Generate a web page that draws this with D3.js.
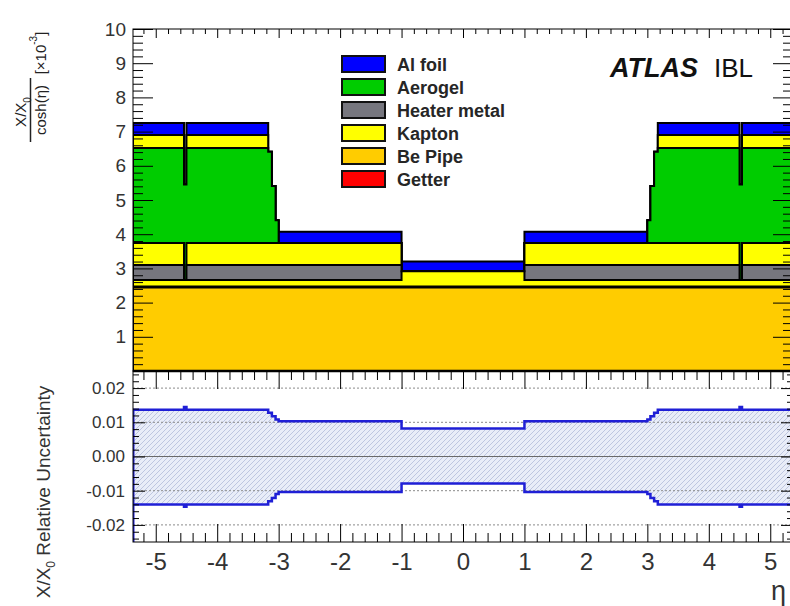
<!DOCTYPE html>
<html>
<head>
<meta charset="utf-8">
<script src="https://cdn.jsdelivr.net/npm/d3@7"></script>
<style>
  html, body { margin: 0; padding: 0; background: #ffffff; }
  svg { display: block; font-family: "Liberation Sans", Arial, Helvetica, sans-serif; }
</style>
</head>
<body>
<svg id="chart" width="790" height="606"></svg>
<script>
// ---------------- DATA ----------------
const etaEdges = [-5.37, -4.54, -4.50, -3.17, -3.11, -3.05, -3.0, -1.0, 1.0, 3.0, 3.05, 3.11, 3.17, 4.50, 4.54, 5.37];
// per-bin X/X0 / cosh(eta) contributions [x10^-3], stacked bottom -> top
const bePipe      = [2.44, 2.44, 2.44, 2.44, 2.44, 2.44, 2.44, 2.44, 2.44, 2.44, 2.44, 2.44, 2.44, 2.44, 2.44];
const getter      = [0.03, 0.03, 0.03, 0.03, 0.03, 0.03, 0.03, 0.03, 0.03, 0.03, 0.03, 0.03, 0.03, 0.03, 0.03];
const kaptonInner = [0.19, 0.19, 0.19, 0.19, 0.19, 0.19, 0.19, 0.45, 0.19, 0.19, 0.19, 0.19, 0.19, 0.19, 0.19];
const heaterMetal = [0.44, 0.00, 0.44, 0.44, 0.44, 0.44, 0.44, 0.00, 0.44, 0.44, 0.44, 0.44, 0.44, 0.00, 0.44];
const kaptonMid   = [0.64, 0.00, 0.64, 0.64, 0.64, 0.64, 0.64, 0.00, 0.64, 0.64, 0.64, 0.64, 0.64, 0.00, 0.64];
const aerogel     = [2.78, 2.79, 2.78, 2.67, 1.67, 0.67, 0.00, 0.00, 0.00, 0.67, 1.67, 2.67, 2.78, 2.79, 2.78];
const kaptonOuter = [0.38, 0.00, 0.38, 0.00, 0.00, 0.00, 0.00, 0.00, 0.00, 0.00, 0.00, 0.00, 0.38, 0.00, 0.38];
const alFoil      = [0.35, 0.00, 0.35, 0.00, 0.00, 0.00, 0.33, 0.28, 0.33, 0.00, 0.00, 0.00, 0.35, 0.00, 0.35];
// relative uncertainty band
const relUncUp   = [0.0137, 0.0145, 0.0137, 0.0128, 0.0118, 0.0108, 0.0103, 0.0082, 0.0103, 0.0108, 0.0118, 0.0128, 0.0137, 0.0145, 0.0137];
const relUncDown = [-0.0140, -0.0147, -0.0140, -0.0131, -0.0121, -0.0110, -0.0104, -0.0079, -0.0104, -0.0110, -0.0121, -0.0131, -0.0140, -0.0147, -0.0140];
// legend and ticks
const legendLabels = ["Al foil", "Aerogel", "Heater metal", "Kapton", "Be Pipe", "Getter"];
const xTickValues = [-5, -4, -3, -2, -1, 0, 1, 2, 3, 4, 5];
const xTickLabels = ["-5", "-4", "-3", "-2", "-1", "0", "1", "2", "3", "4", "5"];
const yTopTickValues = [1, 2, 3, 4, 5, 6, 7, 8, 9, 10];
const yTopTickLabels = ["1", "2", "3", "4", "5", "6", "7", "8", "9", "10"];
const yBotTickValues = [-0.02, -0.01, 0.00, 0.01, 0.02];
const yBotTickLabels = ["-0.02", "-0.01", "0.00", "0.01", "0.02"];

// ---------------- STYLE ----------------
const colors = {
  "Al foil": "#0000ff", "Aerogel": "#00cc00", "Heater metal": "#76767e",
  "Kapton": "#ffff00", "Be Pipe": "#ffcc00", "Getter": "#ff0000"
};
const layers = [
  { mat: "Be Pipe", v: bePipe },
  { mat: "Getter", v: getter },
  { mat: "Kapton", v: kaptonInner },
  { mat: "Heater metal", v: heaterMetal },
  { mat: "Kapton", v: kaptonMid },
  { mat: "Aerogel", v: aerogel },
  { mat: "Kapton", v: kaptonOuter },
  { mat: "Al foil", v: alFoil }
];

const svg = d3.select("#chart");
const L = 133, R = 793, T1 = 29, B1 = 371, T2 = 371, B2 = 542;
const x = d3.scaleLinear().domain([etaEdges[0], etaEdges[etaEdges.length - 1]]).range([L, R]);
const yTop = d3.scaleLinear().domain([0, 10]).range([B1, T1]);
const yBot = d3.scaleLinear().domain([-0.025, 0.025]).range([B2, T2]);

const defs = svg.append("defs");
defs.append("clipPath").attr("id", "clipAll")
  .append("rect").attr("x", L).attr("y", T1).attr("width", R - L).attr("height", B2 - T1);

const nb = etaEdges.length - 1;
function stepPoints(vals) {
  const pts = [];
  for (let i = 0; i < nb; i++) {
    pts.push([etaEdges[i], vals[i]]);
    pts.push([etaEdges[i + 1], vals[i]]);
  }
  return pts;
}

// cumulative stack
const cum = [];
let run = new Array(nb).fill(0);
layers.forEach(l => {
  run = run.map((r, i) => r + l.v[i]);
  cum.push(run.slice());
});

const gTop = svg.append("g").attr("clip-path", "url(#clipAll)");
const areaTop = d3.area().x(d => x(d[0])).y0(yTop(0)).y1(d => yTop(d[1]));
const lineTop = d3.line().x(d => x(d[0])).y(d => yTop(d[1]));
for (let k = layers.length - 1; k >= 0; k--) {
  const pts = stepPoints(cum[k]);
  gTop.append("path").attr("d", areaTop(pts)).attr("fill", colors[layers[k].mat]).attr("stroke", "none");
  const outline = [[etaEdges[0], 0]].concat(pts, [[etaEdges[nb], 0]]);
  gTop.append("path").attr("d", lineTop(outline)).attr("fill", "none")
    .attr("stroke", "#000").attr("stroke-width", 2);
}

// ---------------- bottom panel ----------------
const pat = defs.append("pattern").attr("id", "hatch").attr("patternUnits", "userSpaceOnUse")
  .attr("width", 5).attr("height", 5);
pat.append("rect").attr("width", 5).attr("height", 5).attr("fill", "#e9edf8");
pat.append("path").attr("d", "M-1,6 L6,-1 M-1,1 L1,-1 M4,6 L6,4").attr("stroke", "#b9c2de").attr("stroke-width", 0.9);

const gBot = svg.append("g").attr("clip-path", "url(#clipAll)");
const bandPts = [];
for (let i = 0; i < nb; i++) {
  bandPts.push({ e: etaEdges[i], u: relUncUp[i], d: relUncDown[i] });
  bandPts.push({ e: etaEdges[i + 1], u: relUncUp[i], d: relUncDown[i] });
}
gBot.append("path")
  .attr("d", d3.area().x(p => x(p.e)).y0(p => yBot(p.d)).y1(p => yBot(p.u))(bandPts))
  .attr("fill", "url(#hatch)");

// reference lines
[0.01, -0.01, 0.02, -0.02].forEach(v => {
  gBot.append("line").attr("x1", L).attr("x2", R).attr("y1", yBot(v)).attr("y2", yBot(v))
    .attr("stroke", "#8a8a8a").attr("stroke-width", 1).attr("stroke-dasharray", "2,2");
});
gBot.append("line").attr("x1", L).attr("x2", R).attr("y1", yBot(0)).attr("y2", yBot(0))
  .attr("stroke", "#6a6a6a").attr("stroke-width", 1);

const lineBot = d3.line().x(p => x(p[0])).y(p => yBot(p[1]));
gBot.append("path").attr("d", lineBot(stepPoints(relUncUp))).attr("fill", "none")
  .attr("stroke", "#1f1fd6").attr("stroke-width", 2.5);
gBot.append("path").attr("d", lineBot(stepPoints(relUncDown))).attr("fill", "none")
  .attr("stroke", "#1f1fd6").attr("stroke-width", 2.5);
gBot.append("path").attr("d", lineBot([[etaEdges[0], relUncUp[0]], [etaEdges[0], -0.025]]))
  .attr("fill", "none").attr("stroke", "#1f1fd6").attr("stroke-width", 3);

// ---------------- axes / ticks ----------------
function minorRange(a, b, s) { return d3.range(Math.round(a / s), Math.round(b / s) + 1).map(v => +(v * s).toFixed(4)); }
const xMinor = minorRange(-5.2, 5.2, 0.2).filter(v => Math.abs(v - Math.round(v)) > 1e-6);
const yTopMinor = minorRange(0.2, 9.8, 0.2).filter(v => Math.abs(v - Math.round(v)) > 1e-6);
const yBotMinor = minorRange(-0.024, 0.024, 0.002).filter(v => Math.abs(v * 100 - Math.round(v * 100)) > 1e-6);

function addAxis(axis, tx, ty) {
  const g = svg.append("g").attr("transform", `translate(${tx},${ty})`).call(axis);
  g.select(".domain").remove();
  g.selectAll(".tick line").attr("stroke", "#000").attr("stroke-width", 1);
  return g;
}
const fontFam = "Liberation Sans, Arial, sans-serif";
// top panel y axis (left, labels)
const gyl = addAxis(d3.axisLeft(yTop).tickValues(yTopTickValues).tickSize(-20).tickPadding(7)
  .tickFormat((d, i) => yTopTickLabels[i]), L, 0);
gyl.selectAll("text").attr("font-size", 19).attr("fill", "#333").attr("font-family", fontFam);
addAxis(d3.axisLeft(yTop).tickValues(yTopMinor).tickSize(-10).tickFormat(""), L, 0);
addAxis(d3.axisRight(yTop).tickValues(yTopTickValues).tickSize(-20).tickFormat(""), R, 0);
addAxis(d3.axisRight(yTop).tickValues(yTopMinor).tickSize(-10).tickFormat(""), R, 0);
// top panel x ticks at top edge
addAxis(d3.axisTop(x).tickValues(xTickValues).tickSize(-9).tickFormat(""), 0, T1);
addAxis(d3.axisTop(x).tickValues(xMinor).tickSize(-5).tickFormat(""), 0, T1);
// bottom panel x ticks (top edge, pointing down)
addAxis(d3.axisTop(x).tickValues(xTickValues).tickSize(-18).tickFormat(""), 0, T2);
addAxis(d3.axisTop(x).tickValues(xMinor).tickSize(-9).tickFormat(""), 0, T2);
// bottom panel x axis with labels
const gxb = addAxis(d3.axisBottom(x).tickValues(xTickValues).tickSize(-18).tickPadding(11)
  .tickFormat((d, i) => xTickLabels[i]), 0, B2);
gxb.selectAll("text").attr("font-size", 24).attr("fill", "#333").attr("font-family", fontFam);
addAxis(d3.axisBottom(x).tickValues(xMinor).tickSize(-9).tickFormat(""), 0, B2);
// bottom panel y axis
const gybl = addAxis(d3.axisLeft(yBot).tickValues(yBotTickValues).tickSize(-12).tickPadding(8)
  .tickFormat((d, i) => yBotTickLabels[i]), L, 0);
gybl.selectAll("text").attr("font-size", 17).attr("fill", "#333").attr("font-family", fontFam);
addAxis(d3.axisLeft(yBot).tickValues(yBotMinor).tickSize(-6).tickFormat(""), L, 0);
addAxis(d3.axisRight(yBot).tickValues(yBotTickValues).tickSize(-12).tickFormat(""), R, 0);
addAxis(d3.axisRight(yBot).tickValues(yBotMinor).tickSize(-6).tickFormat(""), R, 0);

// frames
svg.append("rect").attr("x", L).attr("y", T1).attr("width", R - L).attr("height", B1 - T1)
  .attr("fill", "none").attr("stroke", "#000").attr("stroke-width", 1);
svg.append("rect").attr("x", L).attr("y", T2).attr("width", R - L).attr("height", B2 - T2)
  .attr("fill", "none").attr("stroke", "#000").attr("stroke-width", 1);
svg.append("line").attr("x1", L).attr("x2", R).attr("y1", B1).attr("y2", B1)
  .attr("stroke", "#000").attr("stroke-width", 2.5);

// ---------------- legend ----------------
const lg = svg.append("g");
legendLabels.forEach((lab, i) => {
  const cy = 64 + 23 * i;
  lg.append("rect").attr("x", 342).attr("y", cy - 8).attr("width", 43).attr("height", 16)
    .attr("fill", colors[lab]).attr("stroke", "#111").attr("stroke-width", 2);
  lg.append("text").attr("x", 397).attr("y", cy + 6.5).text(lab)
    .attr("font-size", 18).attr("font-weight", "bold").attr("fill", "#262626");
});

// ATLAS label
svg.append("text").attr("x", 610).attr("y", 77).text("ATLAS")
  .attr("font-size", 27).attr("font-weight", "bold").attr("font-style", "italic").attr("fill", "#111");
svg.append("text").attr("x", 714).attr("y", 77).text("IBL")
  .attr("font-size", 26).attr("fill", "#111");

// ---------------- axis titles ----------------
// top y title: X/X0 / cosh(eta) [x10^-3]
const num = svg.append("text").attr("transform", "translate(26,112) rotate(-90)")
  .attr("text-anchor", "middle").attr("font-size", 15).attr("fill", "#222");
num.append("tspan").text("X/X");
num.append("tspan").text("0").attr("font-size", 10).attr("dy", 5);
svg.append("line").attr("x1", 30.5).attr("x2", 30.5).attr("y1", 78).attr("y2", 142)
  .attr("stroke", "#222").attr("stroke-width", 1.5);
svg.append("text").attr("transform", "translate(46,110) rotate(-90)")
  .attr("text-anchor", "middle").attr("font-size", 15).attr("fill", "#222").text("cosh(η)");
const unit = svg.append("text").attr("transform", "translate(46,53) rotate(-90)")
  .attr("text-anchor", "middle").attr("font-size", 15).attr("fill", "#222");
unit.append("tspan").text("[×10");
unit.append("tspan").text("-3").attr("font-size", 10).attr("dy", -9);
unit.append("tspan").text("]").attr("dy", 9);

// bottom y title
const yb = svg.append("text").attr("transform", "translate(50,492) rotate(-90)")
  .attr("text-anchor", "middle").attr("font-size", 19).attr("fill", "#333");
yb.append("tspan").text("X/X");
yb.append("tspan").text("0").attr("font-size", 12).attr("dy", 5);
yb.append("tspan").text(" Relative Uncertainty").attr("dy", -5);

// x title
svg.append("text").attr("x", 786).attr("y", 600).attr("text-anchor", "end")
  .attr("font-size", 27).attr("fill", "#333").text("η");
</script>
</body>
</html>
